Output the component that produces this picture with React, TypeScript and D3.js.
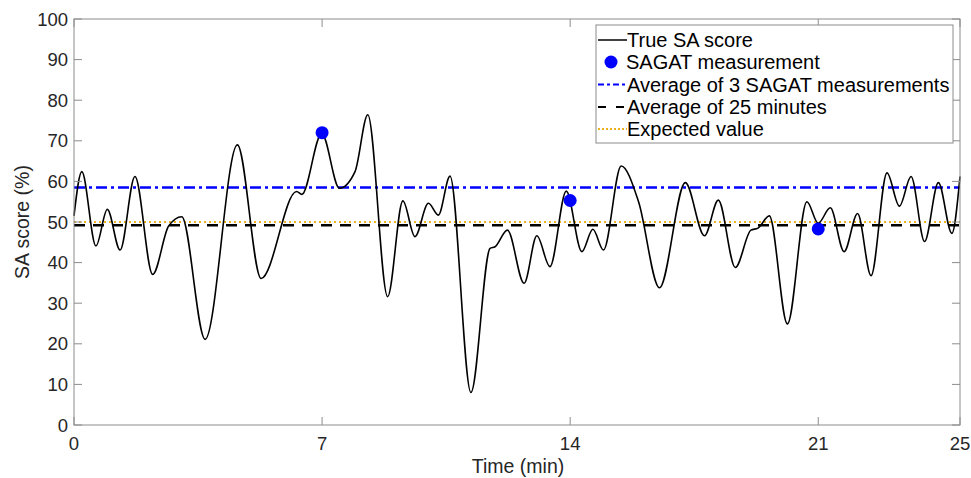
import React, { useEffect, useRef } from 'react';
import * as d3 from 'd3';

// True SA score at its peaks, troughs and shoulders
const trueTimes = [
  0, 0.22, 0.62, 0.94, 1.3, 1.72, 2.22, 2.67, 3.04, 3.7, 4.61, 5.28, 6.28, 6.43,
  6.99, 7.49, 7.93, 8.29, 8.85, 9.28, 9.62, 10.0, 10.28, 10.61, 11.2, 11.74, 11.88,
  12.23, 12.7, 13.06, 13.43, 13.89, 14.33, 14.64, 14.94, 15.44, 15.93, 16.52, 17.25,
  17.79, 18.18, 18.66, 19.1, 19.3, 19.62, 20.13, 20.68, 21.0, 21.34, 21.73, 22.11,
  22.49, 22.94, 23.29, 23.62, 24.0, 24.39, 24.77, 25,
];
const trueScores = [
  51.5, 62.4, 44.1, 53.1, 43.1, 61.2, 37.1, 49.0, 51.3, 21.1, 69.0, 36.1, 57.5, 56.8,
  71.8, 58.3, 62.4, 76.4, 31.6, 55.2, 46.4, 54.6, 51.7, 61.3, 8.0, 43.5, 43.9,
  48.0, 34.9, 46.6, 39.0, 57.6, 42.7, 48.2, 43.1, 63.8, 55.0, 33.8, 59.7,
  46.6, 55.4, 38.8, 48.0, 48.5, 51.5, 24.9, 55.0, 49.7, 53.5, 42.7, 52.1,
  36.8, 62.1, 53.9, 61.2, 45.2, 59.7, 47.2, 61.2,
];

const sagatTimes = [7, 14, 21];
const sagatScores = [72.0, 55.3, 48.3];

const avgSagat = 58.5;
const avg25 = 49.2;
const expected = 50;

const xTicks = [0, 7, 14, 21, 25];
const yTicks = [0, 10, 20, 30, 40, 50, 60, 70, 80, 90, 100];

const legendLabels = [
  'True SA score',
  'SAGAT measurement',
  'Average of 3 SAGAT measurements',
  'Average of 25 minutes',
  'Expected value',
];

export default function App() {
  const ref = useRef<SVGSVGElement | null>(null);

  useEffect(() => {
    const el = ref.current;
    if (!el) return;
    const svg = d3.select(el);
    svg.selectAll('*').remove();

    const left = 74;
    const right = 960;
    const top = 19;
    const bottom = 425;
    const axisColor = '#8c8c8c';
    const textColor = '#262626';
    const font = 'Arial, "Liberation Sans", sans-serif';

    const x = d3.scaleLinear().domain([0, 25]).range([left, right]);
    const y = d3.scaleLinear().domain([0, 100]).range([bottom, top]);

    svg.append('rect').attr('width', 971).attr('height', 478).attr('fill', '#fff');

    // horizontal reference lines
    const hline = (v: number, color: string, dash: string, w: number) =>
      svg
        .append('line')
        .attr('x1', left)
        .attr('x2', right)
        .attr('y1', y(v))
        .attr('y2', y(v))
        .attr('stroke', color)
        .attr('stroke-width', w)
        .attr('stroke-dasharray', dash);

    hline(expected, '#EDB120', '2,3', 2);
    hline(avg25, '#000', '11,8', 2.5);
    hline(avgSagat, '#0000ff', '11,4,3,4', 2.5);

    // true score curve
    const pts = trueTimes.map((t, i) => [t, trueScores[i]] as [number, number]);
    const line = d3
      .line<[number, number]>()
      .x((d) => x(d[0]))
      .y((d) => y(d[1]))
      .curve(d3.curveMonotoneX);
    svg
      .append('path')
      .attr('d', line(pts))
      .attr('fill', 'none')
      .attr('stroke', '#000')
      .attr('stroke-width', 1.6);

    svg
      .selectAll('circle.sagat')
      .data(sagatTimes)
      .join('circle')
      .attr('class', 'sagat')
      .attr('cx', (d) => x(d))
      .attr('cy', (d, i) => y(sagatScores[i]))
      .attr('r', 6.5)
      .attr('fill', '#0000ff');

    // axes box
    svg
      .append('rect')
      .attr('x', left)
      .attr('y', top)
      .attr('width', right - left)
      .attr('height', bottom - top)
      .attr('fill', 'none')
      .attr('stroke', axisColor)
      .attr('stroke-width', 1);

    const tl = 8;
    xTicks.forEach((t) => {
      svg.append('line').attr('x1', x(t)).attr('x2', x(t)).attr('y1', bottom).attr('y2', bottom - tl).attr('stroke', axisColor);
      svg.append('line').attr('x1', x(t)).attr('x2', x(t)).attr('y1', top).attr('y2', top + tl).attr('stroke', axisColor);
      svg
        .append('text')
        .attr('x', x(t))
        .attr('y', 450)
        .attr('text-anchor', 'middle')
        .attr('font-family', font)
        .attr('font-size', 18.5)
        .attr('fill', textColor)
        .text(t);
    });
    yTicks.forEach((v) => {
      svg.append('line').attr('x1', left).attr('x2', left + tl).attr('y1', y(v)).attr('y2', y(v)).attr('stroke', axisColor);
      svg.append('line').attr('x1', right).attr('x2', right - tl).attr('y1', y(v)).attr('y2', y(v)).attr('stroke', axisColor);
      svg
        .append('text')
        .attr('x', 68)
        .attr('y', y(v) + 6.5)
        .attr('text-anchor', 'end')
        .attr('font-family', font)
        .attr('font-size', 18.5)
        .attr('fill', textColor)
        .text(v);
    });

    svg
      .append('text')
      .attr('x', (left + right) / 2 + 1)
      .attr('y', 473)
      .attr('text-anchor', 'middle')
      .attr('font-family', font)
      .attr('font-size', 19.5)
      .attr('fill', textColor)
      .text('Time (min)');
    svg
      .append('text')
      .attr('transform', `translate(29,${(top + bottom) / 2}) rotate(-90)`)
      .attr('text-anchor', 'middle')
      .attr('font-family', font)
      .attr('font-size', 19.5)
      .attr('fill', textColor)
      .text('SA score (%)');

    // legend
    const lg = svg.append('g');
    lg.append('rect')
      .attr('x', 596)
      .attr('y', 25)
      .attr('width', 357)
      .attr('height', 118)
      .attr('fill', '#fff')
      .attr('stroke', axisColor);
    const rowY = [40, 62, 84.5, 107, 129];
    const sx1 = 598;
    const sx2 = 627;
    lg.append('line').attr('x1', sx1).attr('x2', sx2).attr('y1', rowY[0]).attr('y2', rowY[0]).attr('stroke', '#000').attr('stroke-width', 1.5);
    lg.append('circle').attr('cx', 611).attr('cy', rowY[1]).attr('r', 6.5).attr('fill', '#0000ff');
    lg.append('line').attr('x1', sx1).attr('x2', sx2).attr('y1', rowY[2]).attr('y2', rowY[2]).attr('stroke', '#0000ff').attr('stroke-width', 2).attr('stroke-dasharray', '6,3,3,3');
    lg.append('line').attr('x1', sx1).attr('x2', sx2).attr('y1', rowY[3]).attr('y2', rowY[3]).attr('stroke', '#000').attr('stroke-width', 2).attr('stroke-dasharray', '8,10');
    lg.append('line').attr('x1', sx1).attr('x2', sx2).attr('y1', rowY[4]).attr('y2', rowY[4]).attr('stroke', '#EDB120').attr('stroke-width', 2).attr('stroke-dasharray', '2,2');
    legendLabels.forEach((s, i) => {
      lg.append('text')
        .attr('x', i === 1 ? 626 : 627)
        .attr('y', rowY[i] + 7)
        .attr('font-family', font)
        .attr('font-size', 20)
        .attr('fill', '#000')
        .text(s);
    });
  }, []);

  return (
    <div style={{ position: 'fixed', left: 0, top: 0 }}>
      <svg ref={ref} width={971} height={478} style={{ display: 'block' }} />
    </div>
  );
}
